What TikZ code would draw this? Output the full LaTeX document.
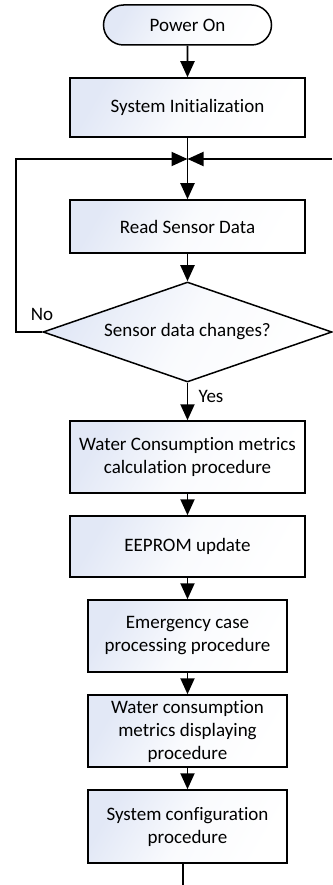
\documentclass[tikz,border=0pt]{standalone}
\usepackage{fontspec}
\setmainfont[Ligatures={NoCommon,NoDiscretionary}]{Carlito}
\usetikzlibrary{arrows.meta,shapes.geometric,shapes.misc}
\definecolor{fillblue}{RGB}{226,232,246}
\tikzset{
  flowline/.style={line width=1.9pt, draw=black},
  flowarrow/.style={flowline, -{Triangle[width=14pt,length=16pt]}},
  boxfill/.style={top color=fillblue, bottom color=white,
    middle color=fillblue!20!white, shading angle=60},
  procbox/.style={rectangle, draw=black, line width=1.5pt, boxfill,
    align=center, inner sep=0pt},
  widebox/.style={procbox, minimum width=235pt},
  narrowbox/.style={procbox, minimum width=199pt},
  startbox/.style={rounded rectangle, draw=black, line width=1.5pt, boxfill,
    minimum width=168pt, minimum height=40pt, inner sep=0pt},
  decision/.style={diamond, draw=black, line width=1.5pt, boxfill,
    minimum width=289pt, minimum height=100pt, inner sep=0pt, aspect=2.9},
  tag/.style={inner sep=0pt}
}
\begin{document}
\begin{tikzpicture}[x=1pt, y=-1pt, font=\fontsize{19}{23}\selectfont]
\useasboundingbox (0,0) rectangle (332,885);

% main column of steps
\node[startbox] (power) at (187.5,25) {Power On};
\node[widebox, minimum height=59pt] (init) at (187.5,107.5) {System Initialization};
\coordinate (join) at (187.5,159);
\node[widebox, minimum height=53pt] (read) at (187.5,226.5) {Read Sensor Data};
\node[decision] (check) at (187.5,332) {Sensor data changes?};
\node[widebox, minimum height=72pt] (calc) at (187.5,457)
  {Water Consumption metrics\\calculation procedure};
\node[widebox, minimum height=61pt] (eeprom) at (187.5,546.5) {EEPROM update};
\node[narrowbox, minimum height=72pt] (emerg) at (187.5,636)
  {Emergency case\\processing procedure};
\node[narrowbox, minimum height=72pt] (disp) at (187.5,731)
  {Water consumption\\metrics displaying\\procedure};
\node[narrowbox, minimum height=73pt] (config) at (187.5,826.5)
  {System configuration\\procedure};

% branch labels
\node[tag] (nolab) at (42,314) {No};
\node[tag] (yeslab) at (211,396) {Yes};

% loop-back and outgoing ends
\coordinate (leftturn) at (16,332);
\coordinate (lefttop) at (16,159);
\coordinate (rightin) at (332,159);
\coordinate (exitend) at (183,885);

% connectors
\draw[flowarrow] (power) -- (init);
\draw[flowline] (init) -- (join);
\draw[flowarrow] (join) -- (read);
\draw[flowarrow] (check.west) -- (leftturn) -- (lefttop) -- (join);
\draw[flowarrow] (rightin) -- (join);
\draw[flowarrow] (read) -- (check);
\draw[flowarrow] (check) -- (calc);
\draw[flowarrow] (calc) -- (eeprom);
\draw[flowarrow] (eeprom) -- (emerg);
\draw[flowarrow] (emerg) -- (disp);
\draw[flowarrow] (disp) -- (config);
\draw[flowline] (config.south -| exitend) -- (exitend);
\end{tikzpicture}
\end{document}
